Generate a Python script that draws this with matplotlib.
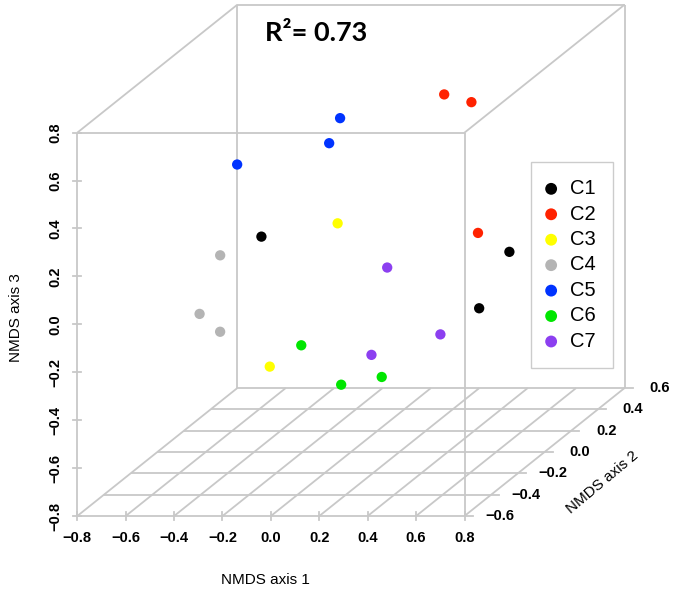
import matplotlib
matplotlib.use("Agg")
import matplotlib.pyplot as plt
import numpy as np

plt.rcParams['font.family'] = ['Liberation Sans', 'DejaVu Sans']

# ---- data ----
groups = ['C1', 'C2', 'C3', 'C4', 'C5', 'C6', 'C7']
group_colors = ['#000000', '#ff2200', '#ffff00', '#b4b4b4', '#0033ff', '#00e600', '#8c3ff0']
point_group = ['C1', 'C1', 'C1', 'C2', 'C2', 'C2', 'C3', 'C3', 'C4', 'C4', 'C4',
               'C5', 'C5', 'C5', 'C6', 'C6', 'C6', 'C7', 'C7', 'C7']
nmds1 = [-0.48, 0.71, 0.53, 0.11, 0.25, 0.47, -0.11, -0.17, -0.43, -0.46, -0.32,
         -0.47, -0.21, -0.20, -0.15, 0.07, 0.21, 0.15, 0.48, 0.14]
nmds2 = [0.20, -0.10, 0.00, 0.50, 0.45, 0.10, 0.10, -0.30, -0.20, -0.30, -0.40,
         0.00, 0.30, 0.20, -0.10, -0.20, -0.15, 0.00, -0.20, -0.10]
nmds3 = [0.01, 0.08, -0.20, 0.47, 0.46, 0.07, 0.11, -0.31, 0.11, -0.09, -0.12,
         0.40, 0.46, 0.40, -0.31, -0.43, -0.42, -0.03, -0.22, -0.35]
x_ticks = [-0.8, -0.6, -0.4, -0.2, 0.0, 0.2, 0.4, 0.6, 0.8]
y_ticks = [-0.6, -0.4, -0.2, 0.0, 0.2, 0.4, 0.6]
z_ticks = [-0.8, -0.6, -0.4, -0.2, 0.0, 0.2, 0.4, 0.6, 0.8]
r2_text = 'R\u00b2= 0.73'

# ---- oblique projection (scatterplot3d style, angle ~40 deg) ----
xlo, xhi = x_ticks[0], x_ticks[-1]
ylo, yhi = y_ticks[0], y_ticks[-1]
zlo, zhi = z_ticks[0], z_ticks[-1]
KX = 0.551   # horizontal shift per unit of axis 2
KZ = 0.445   # vertical shift per unit of axis 2


def proj(x, y, z):
    x = np.asarray(x, float); y = np.asarray(y, float); z = np.asarray(z, float)
    return x + (y - ylo) * KX, z + (y - ylo) * KZ


W, H = 675, 591
fig = plt.figure(figsize=(W / 100, H / 100), dpi=100)
ax = fig.add_axes([0, 0, 1, 1])
PXU = 242.0   # pixels per unit horizontally
PZV = 239.6   # pixels per unit vertically
ax.set_xlim(-1.1194, 1.6698)
ax.set_ylim(-1.1130, 1.3536)
ax.axis('off')

lc = '#c8c8c8'
lw = 1.3


def seg(p0, p1, **kw):
    u, v = proj([p0[0], p1[0]], [p0[1], p1[1]], [p0[2], p1[2]])
    ax.plot(u, v, color=lc, lw=lw, solid_capstyle='butt', zorder=1, **kw)


# floor grid
for xv in x_ticks:
    seg((xv, ylo, zlo), (xv, yhi, zlo))
for yv in y_ticks:
    seg((xlo, yv, zlo), (xhi, yv, zlo))
# box vertical edges
for xv in (xlo, xhi):
    for yv in (ylo, yhi):
        seg((xv, yv, zlo), (xv, yv, zhi))
# box top edges
seg((xlo, ylo, zhi), (xhi, ylo, zhi))
seg((xlo, yhi, zhi), (xhi, yhi, zhi))
seg((xlo, ylo, zhi), (xlo, yhi, zhi))
seg((xhi, ylo, zhi), (xhi, yhi, zhi))

# ticks
tk_u = 4 / PXU
tk_v = 4 / PZV
tfs = 10.5
for xv in x_ticks:
    u, v = proj(xv, ylo, zlo)
    ax.plot([u, u], [v - tk_v, v + tk_v], color=lc, lw=lw, zorder=1)
    ax.text(u, v - 22 / PZV, f'{xv:.1f}'.replace('-', '\u2212'), ha='center', va='center',
            fontsize=tfs, fontweight='bold')
for zv in z_ticks:
    u, v = proj(xlo, ylo, zv)
    ax.plot([u - tk_u, u + tk_u], [v, v], color=lc, lw=lw, zorder=1)
    ax.text(u - 22 / PXU, v, f'{zv:.1f}'.replace('-', '\u2212'), ha='center', va='center',
            fontsize=tfs, fontweight='bold', rotation=90)
for yv in y_ticks:
    u, v = proj(xhi, yv, zlo)
    ax.plot([u, u + 8 / PXU], [v, v], color=lc, lw=lw, zorder=1)
    ax.text(u + 35 / PXU, v, f'{yv:.1f}'.replace('-', '\u2212'), ha='center', va='center',
            fontsize=tfs, fontweight='bold')

# points
pu, pv = proj(nmds1, nmds2, nmds3)
for g, c in zip(groups, group_colors):
    idx = [i for i, pg in enumerate(point_group) if pg == g]
    ax.scatter(pu[idx], pv[idx], s=55, color=c, edgecolors='none', zorder=3, label=g)

leg = ax.legend(loc='upper left', bbox_to_anchor=(531 / W, 1 - 162 / H),
                bbox_transform=fig.transFigure, frameon=True, fancybox=False,
                fontsize=14.5, markerscale=1.15, handlelength=0.3, handletextpad=0.8,
                borderpad=0.85, labelspacing=0.32, borderaxespad=0)
leg.get_frame().set_edgecolor('#c0c0c0')
leg.get_frame().set_linewidth(1.0)

# axis titles
fig.text(265 / W, 1 - 580 / H, 'NMDS axis 1', ha='center', va='center', fontsize=11)
fig.text(16 / W, 1 - 318 / H, 'NMDS axis 3', ha='center', va='center', fontsize=11, rotation=90)
fig.text(602.5 / W, 1 - 482.5 / H, 'NMDS axis 2', ha='center', va='center', fontsize=11,
         rotation=40, rotation_mode='anchor')

fig.text(265 / W, 1 - 33 / H, r2_text, ha='left', va='center', fontsize=19.5,
         fontweight='bold', family=['Lato', 'DejaVu Sans'])

fig.savefig('out.png', dpi=100)
